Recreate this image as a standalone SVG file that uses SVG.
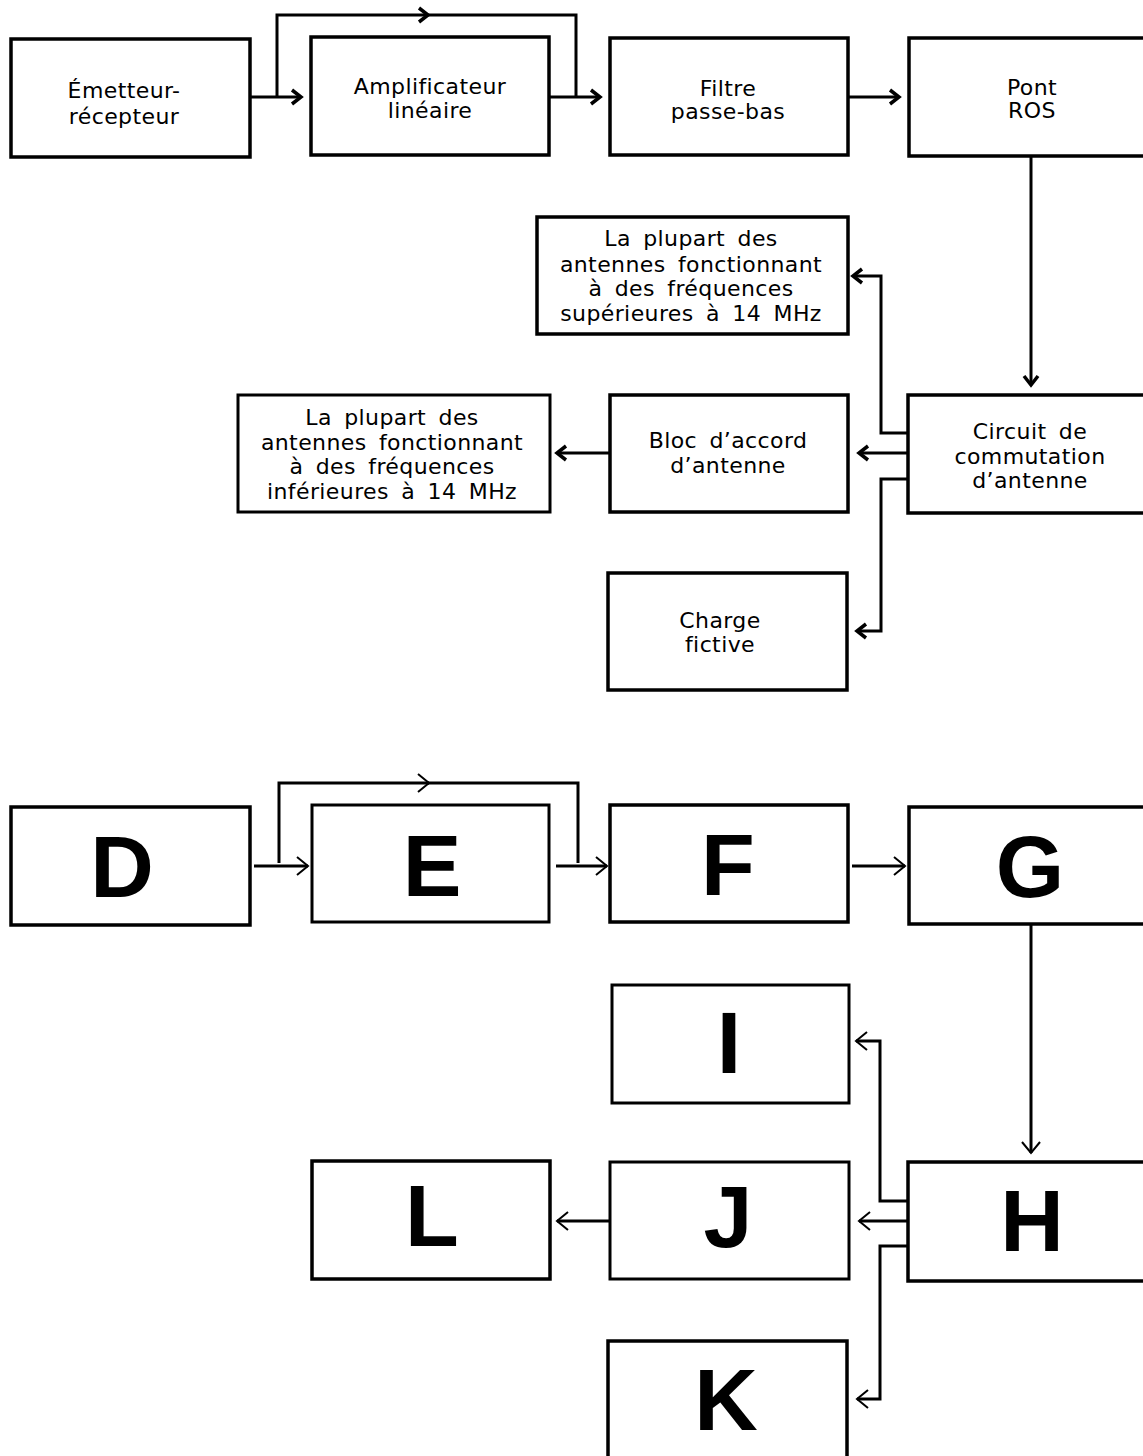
<svg xmlns="http://www.w3.org/2000/svg" width="1143" height="1456" viewBox="0 0 1143 1456">
<style>
.box{fill:#fff;stroke:#000;stroke-width:3.5}
.box2{fill:#fff;stroke:#000;stroke-width:3}
.t{font-family:"DejaVu Sans","Liberation Sans",sans-serif;font-size:22px;fill:#000;text-anchor:middle;word-spacing:5px;letter-spacing:0.4px}
.big{font-family:"Liberation Sans","DejaVu Sans",sans-serif;font-size:88px;font-weight:bold;fill:#000;text-anchor:middle}
.c{fill:none;stroke:#000;stroke-width:3}
.ca{fill:none;stroke:#000;stroke-width:3;marker-end:url(#ah)}
.cb{fill:none;stroke:#000;stroke-width:3;marker-end:url(#ah2)}
</style>
<defs>
<marker id="ah" markerUnits="userSpaceOnUse" markerWidth="24" markerHeight="24" refX="0" refY="0" orient="auto" overflow="visible">
<path d="M -9 -7 L 0 0 L -9 7" fill="none" stroke="#000" stroke-width="3.5"/>
</marker>
<marker id="ah2" markerUnits="userSpaceOnUse" markerWidth="24" markerHeight="24" refX="0" refY="0" orient="auto" overflow="visible">
<path d="M -11 -9 L 0 0 L -11 9" fill="none" stroke="#000" stroke-width="2"/>
</marker>
</defs>
<rect width="1143" height="1456" fill="#fff"/>

<g id="connectors">
<path class="ca" d="M 250 97 H 301"/>
<path class="ca" d="M 277 97 V 15 H 428"/>
<path class="c" d="M 425 15 H 576 V 97"/>
<path class="ca" d="M 549 97 H 600"/>
<path class="ca" d="M 848 97 H 899"/>
<path class="ca" d="M 1031 156 V 385"/>
<path class="ca" d="M 908 433 H 881 V 276 H 853"/>
<path class="ca" d="M 908 453 H 859"/>
<path class="ca" d="M 908 479 H 881 V 631 H 857"/>
<path class="ca" d="M 609 453 H 557"/>

<path class="cb" d="M 254 866 H 308"/>
<path class="cb" d="M 279 863 V 783 H 429"/>
<path class="c" d="M 426 783 H 578 V 863"/>
<path class="cb" d="M 556 866 H 607"/>
<path class="cb" d="M 852 866 H 905"/>
<path class="cb" d="M 1031 924 V 1153"/>
<path class="cb" d="M 907 1201 H 880 V 1041 H 856"/>
<path class="cb" d="M 907 1221 H 859"/>
<path class="cb" d="M 907 1246 H 880 V 1399 H 857"/>
<path class="cb" d="M 609 1221 H 557"/>
</g>

<g id="emetteur"><rect class="box" x="11" y="39" width="239" height="118"/>
<text class="t" x="124" y="98">Émetteur-</text><text class="t" x="124" y="124">récepteur</text></g>
<g id="amplificateur"><rect class="box" x="311" y="37" width="238" height="118"/>
<text class="t" x="430" y="94">Amplificateur</text><text class="t" x="430" y="118">linéaire</text></g>
<g id="filtre"><rect class="box" x="610" y="38" width="238" height="117"/>
<text class="t" x="728" y="96">Filtre</text><text class="t" x="728" y="119">passe-bas</text></g>
<g id="pont"><rect class="box" x="909" y="38" width="240" height="118"/>
<text class="t" x="1032" y="95">Pont</text><text class="t" x="1032" y="118">ROS</text></g>
<g id="superieures"><rect class="box" x="537" y="217" width="311" height="117"/>
<text class="t" x="691" y="246">La plupart des</text><text class="t" x="691" y="272">antennes fonctionnant</text><text class="t" x="691" y="296">à des fréquences</text><text class="t" x="691" y="321">supérieures à 14 MHz</text></g>
<g id="inferieures"><rect class="box2" x="238" y="395" width="312" height="117"/>
<text class="t" x="392" y="425">La plupart des</text><text class="t" x="392" y="450">antennes fonctionnant</text><text class="t" x="392" y="474">à des fréquences</text><text class="t" x="392" y="499">inférieures à 14 MHz</text></g>
<g id="bloc"><rect class="box" x="610" y="395" width="238" height="117"/>
<text class="t" x="728" y="448">Bloc d’accord</text><text class="t" x="728" y="473">d’antenne</text></g>
<g id="circuit"><rect class="box" x="908" y="395" width="241" height="118"/>
<text class="t" x="1030" y="439">Circuit de</text><text class="t" x="1030" y="464">commutation</text><text class="t" x="1030" y="488">d’antenne</text></g>
<g id="charge"><rect class="box" x="608" y="573" width="239" height="117"/>
<text class="t" x="720" y="628">Charge</text><text class="t" x="720" y="652">fictive</text></g>

<g id="D"><rect class="box" x="11" y="807" width="239" height="118"/><text class="big" x="122" y="897">D</text></g>
<g id="E"><rect class="box2" x="312" y="805" width="237" height="117"/><text class="big" x="432" y="896">E</text></g>
<g id="F"><rect class="box" x="610" y="805" width="238" height="117"/><text class="big" x="728" y="895">F</text></g>
<g id="G"><rect class="box" x="909" y="807" width="240" height="117"/><text class="big" x="1030" y="897">G</text></g>
<g id="I"><rect class="box2" x="612" y="985" width="237" height="118"/><text class="big" x="729" y="1073">I</text></g>
<g id="J"><rect class="box2" x="610" y="1162" width="239" height="117"/><text class="big" x="728" y="1247">J</text></g>
<g id="H"><rect class="box" x="908" y="1162" width="241" height="119"/><text class="big" x="1032" y="1251">H</text></g>
<g id="L"><rect class="box" x="312" y="1161" width="238" height="118"/><text class="big" x="432" y="1246">L</text></g>
<g id="K"><rect class="box" x="608" y="1341" width="239" height="125"/><text class="big" x="726" y="1430">K</text></g>
</svg>
